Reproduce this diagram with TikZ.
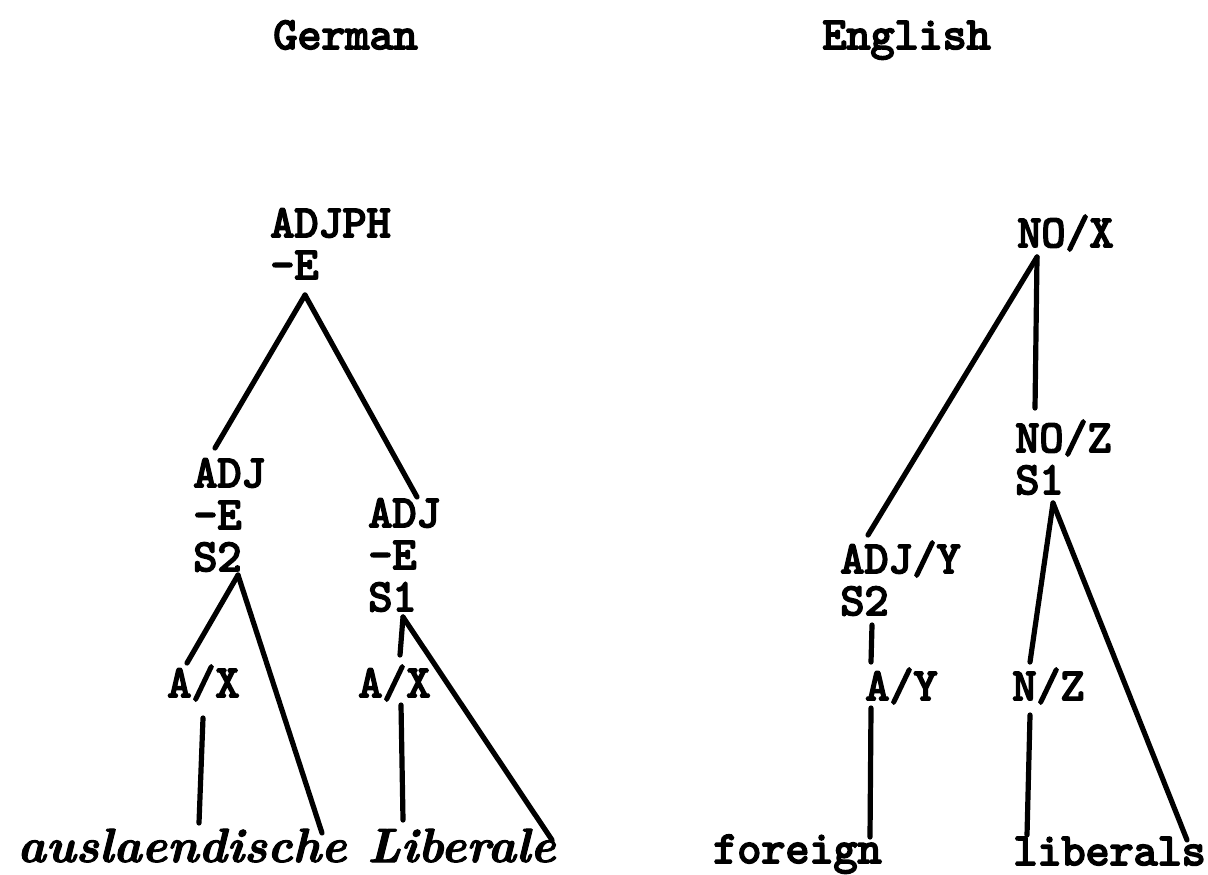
\documentclass[tikz,border=0pt]{standalone}
\usepackage{fontspec}
\newfontfamily\typeface{lmmono10-regular.otf}[FakeBold=4]
\newfontfamily\scriptface{lmroman10-bolditalic.otf}[FakeBold=2]
\usetikzlibrary{calc}
\begin{document}
\begin{tikzpicture}[x=0.5pt, y=-0.5pt,
    cat/.style={anchor=base west, inner sep=0pt, align=left,
      font=\typeface\fontsize{22.9}{21}\selectfont},
    word/.style={anchor=base west, inner sep=0pt,
      font=\scriptface\fontsize{24}{24}\selectfont},
    branch/.style={line width=2.6pt, line cap=round}]
  \useasboundingbox (0,0) rectangle (1208,874);

  % headings
  \node[cat] (german) at (273,49) {German};
  \node[cat] (english) at (822,49) {English};

  % German tree (multi-line nodes sit on their last baseline)
  \node[cat] (adjph) at (270,279) {ADJPH\\-E};
  \node[cat] (adjtwo) at (193,571) {ADJ\\-E\\S2};
  \node[cat] (adjone) at (368,611) {ADJ\\-E\\S1};
  \node[cat] (axleft) at (167,697) {A/X};
  \node[cat] (axright) at (358,697) {A/X};
  \node[word] (ausl) at (17,862) {auslaendische};
  \node[word] (liber) at (367,862) {Liberale};

  \draw[branch] ($(adjph.base west)+(35,16)$) -- ($(adjtwo.base west)+(22,-123)$);
  \draw[branch] ($(adjph.base west)+(35,16)$) -- ($(adjone.base west)+(49,-114)$);
  \draw[branch] ($(adjtwo.base west)+(45,4)$) -- ($(axleft.base west)+(20,-34)$);
  \draw[branch] ($(adjtwo.base west)+(45,4)$) -- ($(ausl.base west)+(305,-29)$);
  \draw[branch] ($(axleft.base west)+(36,21)$) -- ($(ausl.base west)+(182,-39)$);
  \draw[branch] ($(adjone.base west)+(35,6)$) -- ($(axright.base west)+(42,-42)$);
  \draw[branch] ($(adjone.base west)+(35,6)$) -- ($(liber.base west)+(185,-22)$);
  \draw[branch] ($(axright.base west)+(43,8)$) -- ($(liber.base west)+(36,-42)$);

  % English tree
  \node[cat] (nox) at (1017,247) {NO/X};
  \node[cat] (noz) at (1015,494) {NO/Z\\S1};
  \node[cat] (adjy) at (840,615) {ADJ/Y\\S2};
  \node[cat] (ay) at (865,700) {A/Y};
  \node[cat] (nz) at (1012,700) {N/Z};
  \node[cat, anchor=base east] (foreign) at (882,863) {foreign};
  \node[cat] (liberals) at (1013,865) {liberals};

  \draw[branch] ($(nox.base west)+(20,10)$) -- ($(adjy.base west)+(28,-80)$);
  \draw[branch] ($(nox.base west)+(20,10)$) -- ($(noz.base west)+(20,-86)$);
  \draw[branch] ($(noz.base west)+(38,9)$) -- ($(nz.base west)+(18,-38)$);
  \draw[branch] ($(noz.base west)+(38,9)$) -- ($(liberals.base west)+(174,-25)$);
  \draw[branch] ($(adjy.base west)+(32,10)$) -- ($(ay.base west)+(6,-38)$);
  \draw[branch] ($(ay.base west)+(6,8)$) -- ($(foreign.base east)+(-12,-26)$);
  \draw[branch] ($(nz.base west)+(18,15)$) -- ($(liberals.base west)+(14,-30)$);
\end{tikzpicture}
\end{document}
